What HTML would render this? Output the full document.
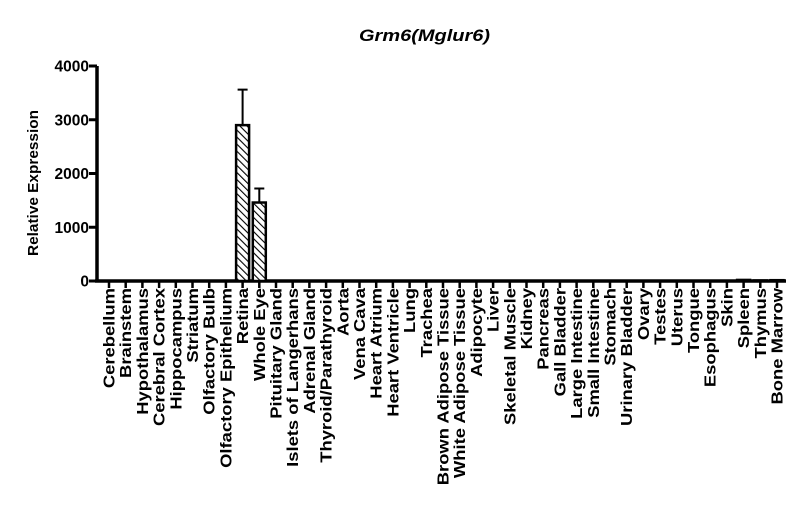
<!DOCTYPE html>
<html><head><meta charset="utf-8"><style>
body{margin:0;background:#fff}
svg text{font-family:"Liberation Sans",Arial,sans-serif;font-weight:bold;fill:#000}
</style></head><body>
<svg id="chart" width="800" height="517" viewBox="0 0 800 517">
<defs><pattern id="hatch" patternUnits="userSpaceOnUse" width="5" height="5" patternTransform="rotate(-45)"><rect width="5" height="5" fill="#fff"/><line x1="0" y1="0" x2="0" y2="5" stroke="#000" stroke-width="2.2"/></pattern></defs>
<text x="359" y="41" font-size="17" font-style="italic" textLength="131" lengthAdjust="spacingAndGlyphs">Grm6(Mglur6)</text>
<text transform="translate(38,183) rotate(-90)" font-size="15" textLength="146" lengthAdjust="spacingAndGlyphs" text-anchor="middle">Relative Expression</text>
<g id="plot"></g>
</svg>
<script>
const categories=["Cerebellum","Brainstem","Hypothalamus","Cerebral Cortex","Hippocampus","Striatum","Olfactory Bulb","Olfactory Epithelium","Retina","Whole Eye","Pituitary Gland","Islets of Langerhans","Adrenal Gland","Thyroid/Parathyroid","Aorta","Vena Cava","Heart Atrium","Heart Ventricle","Lung","Trachea","Brown Adipose Tissue","White Adipose Tissue","Adipocyte","Liver","Skeletal Muscle","Kidney","Pancreas","Gall Bladder","Large Intestine","Small Intestine","Stomach","Urinary Bladder","Ovary","Testes","Uterus","Tongue","Esophagus","Skin","Spleen","Thymus","Bone Marrow"];
const values=[0,0,0,0,0,0,0,0,2900,1460,0,0,0,0,0,0,0,0,0,0,0,0,0,0,0,0,0,0,0,0,0,0,0,0,0,0,0,3,20,10,15];
const errors=[0,0,0,0,0,0,0,0,660,260,0,0,0,0,0,0,0,0,0,0,0,0,0,0,0,0,0,0,0,0,0,0,0,0,0,0,0,0,0,0,0];
const yTicks=[0,1000,2000,3000,4000];
const NS="http://www.w3.org/2000/svg";
const g=document.getElementById('plot');
const y0=281,y1=66,yMax=4000,xFirst=109,xLast=777;
const yS=v=>y0-(v/yMax)*(y0-y1);
const xS=i=>xFirst+i*(xLast-xFirst)/(categories.length-1);
function mk(t,a){const e=document.createElementNS(NS,t);for(const k in a)e.setAttribute(k,a[k]);g.appendChild(e);return e;}
let e=mk('line',{x1:97,y1:y1,x2:97,y2:y0+1.5,stroke:'#000','stroke-width':3.5});


e=mk('line',{x1:95,y1:y0,x2:786,y2:y0,stroke:'#000','stroke-width':3.5});


yTicks.forEach(v=>{
 const t=mk('line',{x1:89,x2:97,y1:yS(v),y2:yS(v),stroke:'#000','stroke-width':3});
 
 
 const l=mk('text',{x:89,y:yS(v)+5.5,'font-size':15.5,'text-anchor':'end'});
 l.textContent=v;
 
 
});
categories.forEach((c,i)=>{
 const x=xS(i);
 const t=mk('line',{x1:x,x2:x,y1:y0,y2:y0+7,stroke:'#000','stroke-width':2.5});
 
 
 const l=mk('text',{transform:`translate(${x+5.5},${y0+7}) rotate(-90) scale(1.15,1)`,'font-size':16,'text-anchor':'end'});
 l.textContent=c;
 
 
 const v=values[i];
 if(v>0){
  const top=yS(v);
  const b=mk('rect',{x:x-6.5,y:top,width:13,height:y0-top,fill:'url(#hatch)',stroke:'#000','stroke-width':2.5});
  
  
  if(errors[i]>0){
   const et=yS(v+errors[i]);
   const el=mk('path',{d:`M${x} ${top}V${et}M${x-5} ${et}H${x+5}`,stroke:'#000','stroke-width':2,fill:'none'});
   
   
  }
 }
});
</script>
</body></html>
